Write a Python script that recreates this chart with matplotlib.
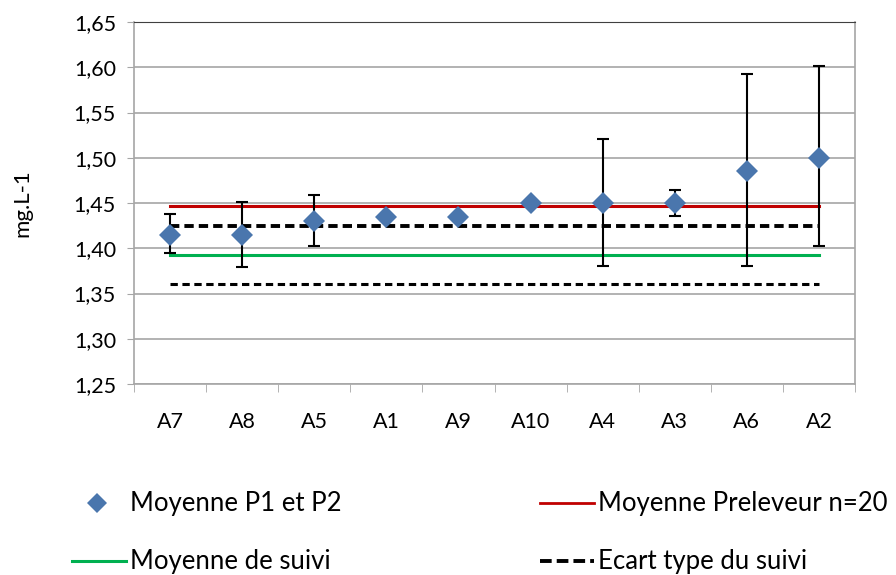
import numpy as np
import matplotlib.pyplot as plt
from matplotlib.lines import Line2D

# data
categories = ["A7", "A8", "A5", "A1", "A9", "A10", "A4", "A3", "A6", "A2"]
moyenne_p1_p2 = [1.415, 1.415, 1.430, 1.435, 1.435, 1.450, 1.450, 1.450, 1.485, 1.500]
err_high = [1.438, 1.451, 1.459, 1.437, 1.437, 1.451, 1.521, 1.464, 1.593, 1.601]
err_low = [1.395, 1.379, 1.402, 1.433, 1.433, 1.449, 1.380, 1.436, 1.380, 1.402]
moyenne_preleveur = 1.447
moyenne_suivi = 1.393
ecart_haut = 1.425
ecart_bas = 1.360
y_ticks = [1.25, 1.30, 1.35, 1.40, 1.45, 1.50, 1.55, 1.60, 1.65]

plt.rcParams["font.family"] = ["Lato", "DejaVu Sans"]
TICK_FS = 15.5
LEG_FS = 18.5

fig = plt.figure(figsize=(8.96, 5.75), dpi=100)
ax = fig.add_axes([134 / 896, 1 - 384 / 575, (855 - 134) / 896, (384 - 22) / 575])

x = np.arange(len(categories))
vals = np.array(moyenne_p1_p2)
yerr = np.vstack([vals - np.array(err_low), np.array(err_high) - vals])

ax.grid(axis="y", color="#a6a6a6", linewidth=1.2, zorder=0)

ax.plot([x[0], x[-1]], [moyenne_preleveur] * 2, color="#c00000", lw=2.2, zorder=2)
ax.plot([x[0], x[-1]], [moyenne_suivi] * 2, color="#00b050", lw=2.2, zorder=2)
ax.plot([x[0], x[-1]], [ecart_haut] * 2, color="black", lw=2.8, ls=(0, (2.4, 1.3)), zorder=2)
ax.plot([x[0], x[-1]], [ecart_bas] * 2, color="black", lw=2.2, ls=(0, (2.4, 1.5)), zorder=2)

ax.errorbar(x, vals, yerr=yerr, fmt="none", ecolor="black", elinewidth=1.5,
            capsize=4.5, capthick=1.5, zorder=3)
ax.plot(x, vals, "D", color="#4a76ad", markersize=11, markeredgewidth=0, zorder=4)

ax.set_xlim(-0.5, len(categories) - 0.5)
ax.set_ylim(1.25, 1.65)
ax.set_yticks(y_ticks)
ax.set_yticklabels([f"{v:.2f}".replace(".", ",") for v in y_ticks], fontsize=TICK_FS)
ax.set_xticks(x)
ax.set_xticklabels(categories, fontsize=TICK_FS)
ax.set_xticks(np.arange(len(categories) + 1) - 0.5, minor=True)
ax.tick_params(axis="x", which="major", length=0, pad=20)
ax.tick_params(axis="x", which="minor", length=6, color="#a6a6a6")
ax.tick_params(axis="y", length=5, color="#a6a6a6", pad=8)
ax.set_ylabel("mg.L-1", fontsize=16, labelpad=30)

for side in ["left", "bottom", "right"]:
    ax.spines[side].set_color("#a6a6a6")
    ax.spines[side].set_linewidth(1.2)
ax.spines["top"].set_color("#404040")

labels = ["Moyenne P1 et P2", "Moyenne Preleveur n=20", "Moyenne de suivi", "Ecart type du suivi"]
fig.text(130 / 896, 1 - 503 / 575, labels[0], fontsize=LEG_FS, va="center")
fig.text(598 / 896, 1 - 503 / 575, labels[1], fontsize=LEG_FS, va="center")
fig.text(130 / 896, 1 - 561 / 575, labels[2], fontsize=LEG_FS, va="center")
fig.text(598 / 896, 1 - 561 / 575, labels[3], fontsize=LEG_FS, va="center")
fig.add_artist(Line2D([97 / 896], [1 - 503 / 575], marker="D", color="#4a76ad", markersize=10,
                      markeredgewidth=0, transform=fig.transFigure))
fig.add_artist(Line2D([540 / 896, 594 / 896], [1 - 503 / 575] * 2, color="#c00000", lw=2,
                      transform=fig.transFigure))
fig.add_artist(Line2D([72 / 896, 126 / 896], [1 - 561 / 575] * 2, color="#00b050", lw=2.2,
                      transform=fig.transFigure))
fig.add_artist(Line2D([540 / 896, 594 / 896], [1 - 561 / 575] * 2, color="black", lw=2.8,
                      ls=(0, (3.0, 1.3)), transform=fig.transFigure))

fig.savefig("out.png", dpi=100)
